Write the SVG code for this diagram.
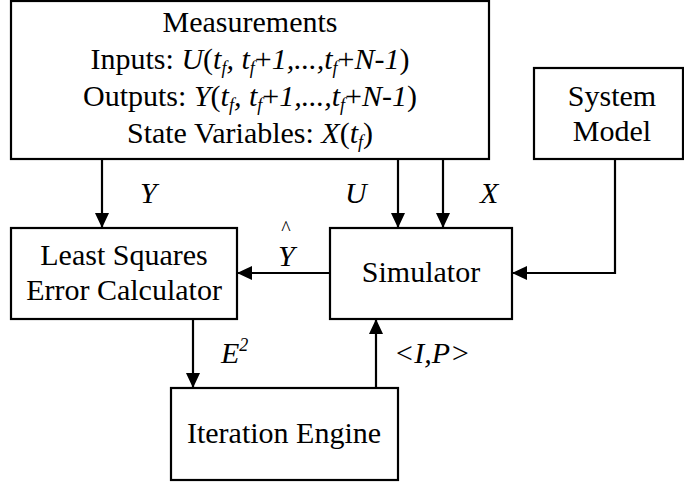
<svg xmlns="http://www.w3.org/2000/svg" width="684" height="482" viewBox="0 0 684 482">
<style>
.box{fill:#fff;stroke:#000;stroke-width:2.2}
.t{font-family:'Liberation Serif','Times New Roman',Times,serif;font-size:30px;fill:#000}
.c{text-anchor:middle}
.i{font-style:italic}
.s{font-size:18px}
.ln{fill:none;stroke:#000;stroke-width:2.2}
</style>
<defs>
<marker id="ah" markerUnits="userSpaceOnUse" markerWidth="16" markerHeight="16" refX="15" refY="7" orient="auto">
<path d="M0,0 L15,7 L0,14 z" fill="#000"/>
</marker>
</defs>
<rect width="684" height="482" fill="#fff"/>
<g id="measurements">
<rect class="box" x="11" y="1" width="478" height="158"/>
<text class="t c" x="250" y="32">Measurements</text>
<text class="t c" x="250" y="69">Inputs: <tspan class="i">U</tspan>(<tspan class="i">t</tspan><tspan class="i s" dy="5">f</tspan><tspan class="i" dy="-5">, t</tspan><tspan class="i s" dy="5">f</tspan><tspan dy="-5">+</tspan><tspan class="i">1,...,t</tspan><tspan class="i s" dy="5">f</tspan><tspan dy="-5">+</tspan><tspan class="i">N-1</tspan>)</text>
<text class="t c" x="250" y="106">Outputs: <tspan class="i">Y</tspan>(<tspan class="i">t</tspan><tspan class="i s" dy="5">f</tspan><tspan class="i" dy="-5">, t</tspan><tspan class="i s" dy="5">f</tspan><tspan dy="-5">+</tspan><tspan class="i">1,...,t</tspan><tspan class="i s" dy="5">f</tspan><tspan dy="-5">+</tspan><tspan class="i">N-1</tspan>)</text>
<text class="t c" x="250" y="143">State Variables: <tspan class="i">X</tspan>(<tspan class="i">t</tspan><tspan class="i s" dy="5">f</tspan><tspan dy="-5">)</tspan></text>
</g>
<g id="system-model">
<rect class="box" x="534" y="68" width="149" height="91"/>
<text class="t c" x="612" y="106">System</text>
<text class="t c" x="612" y="141">Model</text>
</g>
<g id="least-squares">
<rect class="box" x="11" y="228" width="226" height="91"/>
<text class="t c" x="124" y="265">Least Squares</text>
<text class="t c" x="124" y="300">Error Calculator</text>
</g>
<g id="simulator">
<rect class="box" x="330" y="228" width="182" height="91"/>
<text class="t c" x="421" y="282">Simulator</text>
</g>
<g id="iteration-engine">
<rect class="box" x="171" y="388" width="227" height="92"/>
<text class="t c" x="284" y="443">Iteration Engine</text>
</g>
<g id="connectors">
<line class="ln" x1="102" y1="159" x2="102" y2="228" marker-end="url(#ah)"/>
<line class="ln" x1="398" y1="159" x2="398" y2="228" marker-end="url(#ah)"/>
<line class="ln" x1="443" y1="159" x2="443" y2="228" marker-end="url(#ah)"/>
<path class="ln" d="M615,159 V273 H512" marker-end="url(#ah)"/>
<line class="ln" x1="330" y1="273" x2="237" y2="273" marker-end="url(#ah)"/>
<line class="ln" x1="193" y1="319" x2="193" y2="388" marker-end="url(#ah)"/>
<line class="ln" x1="376" y1="388" x2="376" y2="319" marker-end="url(#ah)"/>
<text class="t i" x="140" y="203">Y</text>
<text class="t i" x="345" y="203">U</text>
<text class="t i" x="480" y="203">X</text>
<text class="t" x="286" y="234.5" style="font-size:20px" text-anchor="middle">^</text>
<text class="t i" x="278" y="266">Y</text>
<text class="t i" x="221" y="363">E<tspan class="s" dy="-12">2</tspan></text>
<text class="t i" x="394" y="363">&lt;I,P&gt;</text>
</g>
</svg>
